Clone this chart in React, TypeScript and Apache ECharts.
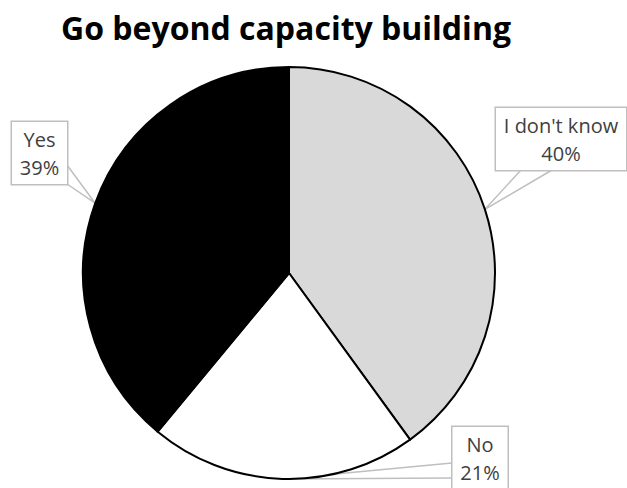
import React, { useEffect, useRef } from "react";
import * as echarts from "echarts";

const titleText = "Go beyond capacity building";
const categories = ["I don't know", "No", "Yes"];
const values = [40, 21, 39];
const sliceColors = ["#d9d9d9", "#ffffff", "#000000"];

// label box placement (center-x, top, inner width) per category
const labelPos = [
  { x: 561, y: 108, w: 116 },
  { x: 480, y: 427, w: 41 },
  { x: 39.5, y: 122, w: 41 },
];
// callout wedge base points on each box
const wedgeBase = [
  [[521, 170], [552, 170]],
  [[452, 463], [452, 478]],
  [[67, 165], [67, 184]],
];

export default function App() {
  const ref = useRef<HTMLDivElement>(null);
  useEffect(() => {
    document.body.style.margin = "0";
    const chart = echarts.init(ref.current!, null, { renderer: "svg" });
    chart.setOption({
      animation: false,
      backgroundColor: "#ffffff",
      title: {
        text: titleText,
        left: 56,
        top: 6,
        textStyle: {
          fontFamily: "Open Sans",
          fontWeight: "bold",
          fontSize: 32,
          color: "#000000",
        },
      },
      series: [
        {
          type: "pie",
          center: [289, 273],
          radius: [0, 206],
          startAngle: 90,
          clockwise: true,
          data: categories.map((c, i) => ({
            name: c,
            value: values[i],
            itemStyle: { color: sliceColors[i] },
            label: { width: labelPos[i].w },
          })),
          itemStyle: { borderColor: "#000000", borderWidth: 2 },
          label: {
            show: true,
            position: "outside",
            alignTo: "none",
            overflow: "none",
            formatter: (p: any) => `${p.name}\n${Math.round(p.percent)}%`,
            fontFamily: "Open Sans",
            fontSize: 20,
            lineHeight: 28,
            color: "#404040",
            backgroundColor: "#ffffff",
            borderColor: "#bfbfbf",
            borderWidth: 1.5,
            padding: [3, 7, 3, 7],
            align: "center",
          },
          labelLine: {
            show: true,
            length: 0,
            length2: 0,
            smooth: false,
            lineStyle: { color: "#bfbfbf", width: 1.5 },
          },
          labelLayout: (params: any) => {
            const i = params.dataIndex;
            const p = labelPos[i];
            const out: any = {
              x: p.x,
              y: p.y,
              align: "center",
              verticalAlign: "top",
            };
            const pts = params.labelLinePoints;
            if (pts && pts[0]) {
              const tip = [pts[0][0], pts[0][1]];
              out.labelLinePoints = [wedgeBase[i][0], tip, wedgeBase[i][1]];
            }
            return out;
          },
          emphasis: { disabled: true },
        },
      ],
    });
    return () => chart.dispose();
  }, []);
  return <div ref={ref} style={{ width: 627, height: 488 }} />;
}
